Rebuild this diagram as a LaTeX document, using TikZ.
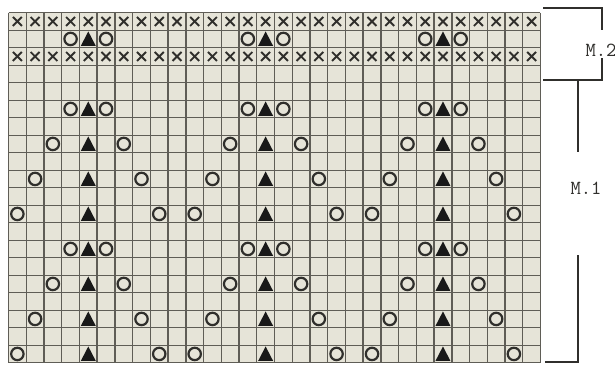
\documentclass[tikz,border=0pt]{standalone}
\usepackage{xcolor}
\usepackage{tikz}
\usetikzlibrary{positioning}

\definecolor{chartbg}{RGB}{230,228,216}
\definecolor{gridgray}{RGB}{95,93,86}
\definecolor{ink}{RGB}{48,47,44}

\begin{document}
\begin{tikzpicture}[x=1pt, y=-1pt,
    gridline/.style={draw=gridgray, line width=1.4pt},
    xstroke/.style={draw=ink, line width=1.9pt},
    ring/.style={draw=ink, line width=2.2pt},
    tri/.style={fill=black!90},
    bracket/.style={draw=ink, line width=1.8pt},
    tag/.style={font=\ttfamily\fontsize{20}{20}\selectfont, text=ink, inner sep=0pt}
]
    \useasboundingbox (0,0) rectangle (615,364);
    \begin{scope}[xshift=8.5pt, yshift=-12.7pt, x=17.733pt, y=-17.5pt]
        \fill[chartbg] (0,0) rectangle (30,20);
        \foreach \i in {0,...,30}
            \draw[gridline] (\i,0) -- (\i,20);
        \foreach \j in {0,...,20}
            \draw[gridline] (0,\j) -- (30,\j);
        \foreach \r in {0,2}
            \foreach \c in {0,...,29}
                \draw[xstroke] (\c+0.5,\r+0.5) +(-4.5pt,-4.5pt) -- +(4.5pt,4.5pt)
                    +(-4.5pt,4.5pt) -- +(4.5pt,-4.5pt);
        \foreach \r/\d in {1/1,5/1,7/2,9/3,11/4,13/1,15/2,17/3,19/4}
            \foreach \k in {4,14,24} {
                \fill[tri] (\k+0.5,\r+0.5) +(0pt,7.5pt) -- +(-7.5pt,-7pt) -- +(7.5pt,-7pt) -- cycle;
                \draw[ring] (\k-\d+0.5,\r+0.5) circle[radius=6.2pt];
                \draw[ring] (\k+\d+0.5,\r+0.5) circle[radius=6.2pt];
            }
    \end{scope}
    \node[tag] (m2) at (601,50) {M.2};
    \node[tag] (m1) at (586,188) {M.1};
    \coordinate (m2top) at (543,8);
    \coordinate (m2bot) at (543,80);
    \coordinate (m1foot) at (545,362);
    \draw[bracket] (m2top) -- ++(59,0) -- ++(0,22);
    \draw[bracket] (m2bot) -- ++(59,0) -- ++(0,-22);
    \draw[bracket] (m2bot) ++(35,0) -- ++(0,72);
    \draw[bracket] (m1foot) -- ++(33,0) -- ++(0,-107);
\end{tikzpicture}
\end{document}
